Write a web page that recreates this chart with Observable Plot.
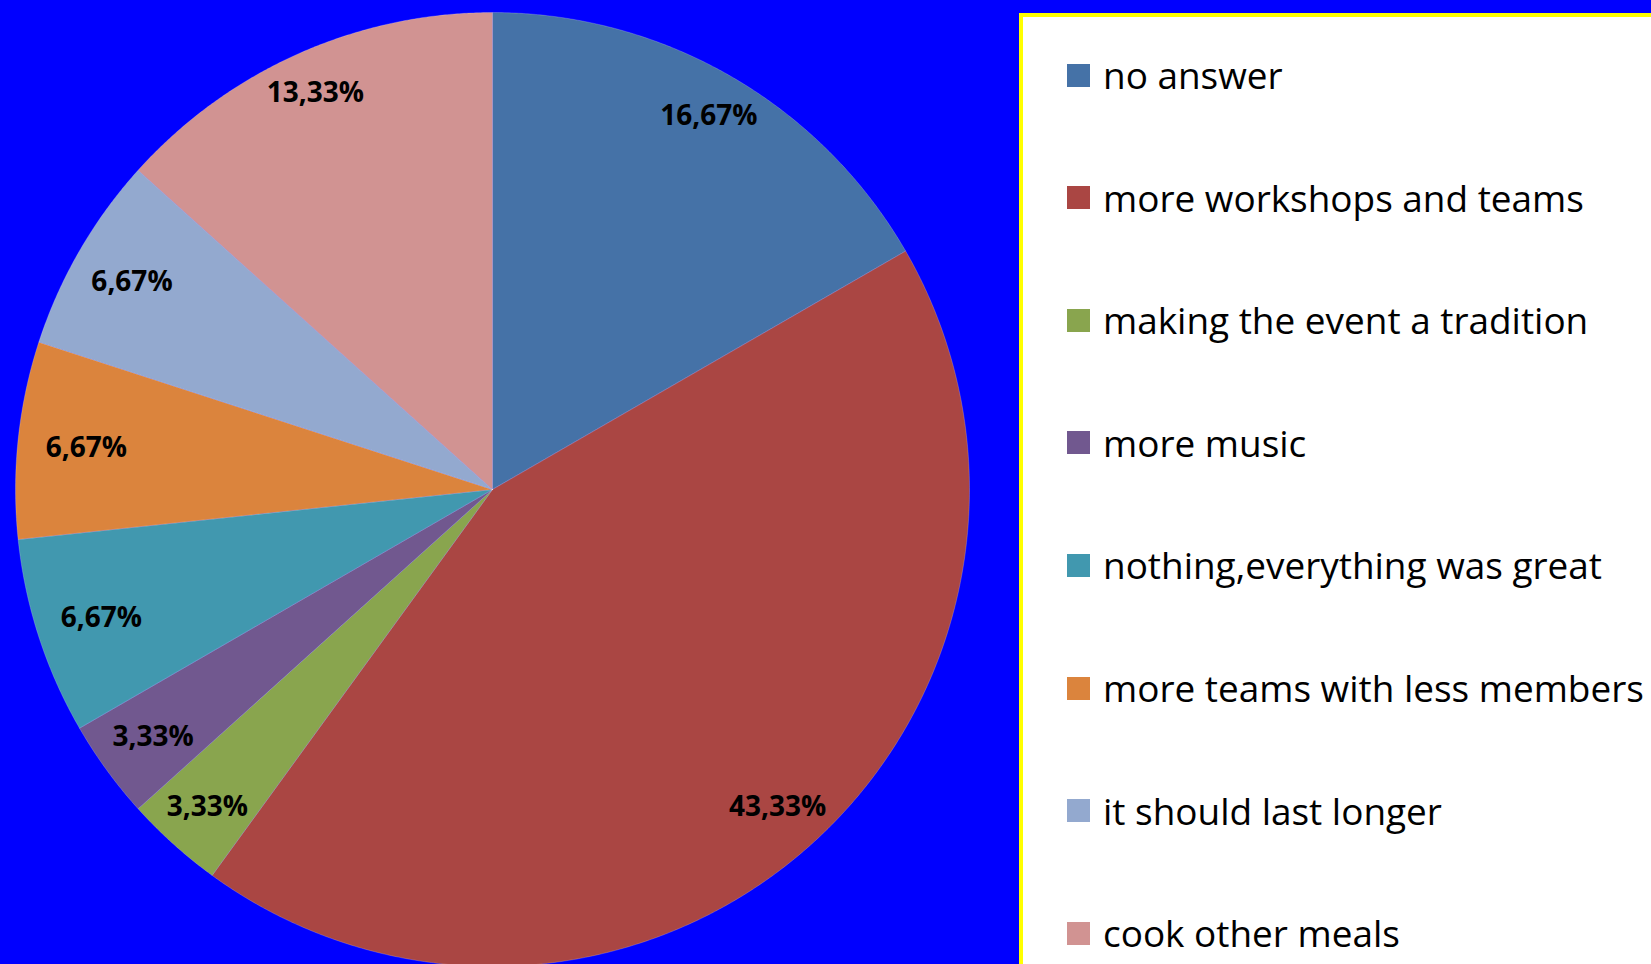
<!DOCTYPE html>
<html>
<head>
<meta charset="utf-8">
<script src="https://cdn.jsdelivr.net/npm/d3@7"></script>
<script src="https://cdn.jsdelivr.net/npm/@observablehq/plot@0.6"></script>
<style>
  html, body { margin: 0; padding: 0; background: #0000FF; overflow: hidden; }
  #wrap { position: relative; width: 1651px; height: 964px; overflow: hidden; background: #0000FF; }
  #chart { position: absolute; left: 0; top: 0; }
  #legend { position: absolute; left: 1019px; top: 13px; width: 700px; height: 1000px;
            background: #ffffff; border: 4px solid #FFFF00; box-sizing: border-box; }
  .item { position: absolute; left: 44px; display: flex; align-items: center; white-space: nowrap;
          font-family: "Open Sans", sans-serif; color: #000; }
  .sw { width: 23px; height: 23px; margin-right: 13px; flex: none; }
</style>
</head>
<body>
<div id="wrap">
  <div id="chart"></div>
  <div id="legend"></div>
</div>
<script>
// ---- data ----
const categories = [
  "no answer",
  "more workshops and teams",
  "making the event a tradition",
  "more music",
  "nothing,everything was great",
  "more teams with less members",
  "it should last longer",
  "cook other meals"
];
const values = [16.67, 43.33, 3.33, 3.33, 6.67, 6.67, 6.67, 13.33];
const valueLabels = ["16,67%", "43,33%", "3,33%", "3,33%", "6,67%", "6,67%", "6,67%", "13,33%"];
const colors = ["#4572A7", "#AA4643", "#89A54E", "#71588F", "#4198AF", "#DB843D", "#93A9CF", "#D19392"];

// ---- layout ----
const W = 1651, H = 964;
const cx = 492, cy = 489, R = 477;

const rows = categories.map((c, i) => ({cat: c, value: values[i], label: valueLabels[i]}));
const arcs = d3.pie().sort(null).value(d => d.value)(rows);

// polygon points for each slice (angles clockwise from 12 o'clock)
const pts = [];
arcs.forEach(a => {
  const cat = a.data.cat;
  pts.push({cat, x: 0, y: 0});
  const n = Math.max(8, Math.ceil((a.endAngle - a.startAngle) / 0.005));
  for (let k = 0; k <= n; k++) {
    const t = a.startAngle + (a.endAngle - a.startAngle) * k / n;
    pts.push({cat, x: R * Math.sin(t), y: -R * Math.cos(t)});
  }
  pts.push({cat, x: 0, y: 0});
});

// "best fit" style label placement: wide labels pulled inward near the left/right sides
const labelPts = arcs.map(a => {
  const m = (a.startAngle + a.endAngle) / 2;
  const s = Math.sin(m);
  const d = R * (0.9245 - 0.069 * s * s);
  return {label: a.data.label, x: d * Math.sin(m), y: -d * Math.cos(m)};
});

const plot = Plot.plot({
  width: W,
  height: H,
  margin: 0,
  style: {background: "transparent", overflow: "visible"},
  x: {domain: [-cx, W - cx], range: [0, W], axis: null},
  y: {domain: [-cy, H - cy], range: [0, H], axis: null},
  color: {domain: categories, range: colors},
  marks: [
    Plot.line(pts, {x: "x", y: "y", z: "cat", fill: "cat", stroke: "#ffffff", strokeOpacity: 0.25, strokeWidth: 0.8, curve: "linear"}),
    Plot.text(labelPts, {x: "x", y: "y", text: "label", fill: "#000000", fontSize: 28, fontWeight: "bold",
      fontFamily: "'Open Sans', sans-serif", textAnchor: "middle", dy: 1})
  ]
});
document.getElementById("chart").appendChild(plot);

// ---- legend ----
const legendTexts = categories;
const ctx = document.createElement("canvas").getContext("2d");
let fs = 36;
ctx.font = `${fs}px "Open Sans"`;
const longest = d3.max(legendTexts, t => ctx.measureText(t).width);
fs = Math.min(40, fs * 541 / longest);
const legend = document.getElementById("legend");
const rowY0 = 75 - 13, rowStep = 122.6;
legendTexts.forEach((t, i) => {
  const item = document.createElement("div");
  item.className = "item";
  item.style.fontSize = fs + "px";
  item.style.height = "50px";
  item.style.top = (rowY0 + i * rowStep - 25 - 4) + "px";
  const sw = document.createElement("div");
  sw.className = "sw";
  sw.style.background = colors[i];
  const tx = document.createElement("span");
  tx.textContent = t;
  item.appendChild(sw);
  item.appendChild(tx);
  legend.appendChild(item);
});
</script>
</body>
</html>
